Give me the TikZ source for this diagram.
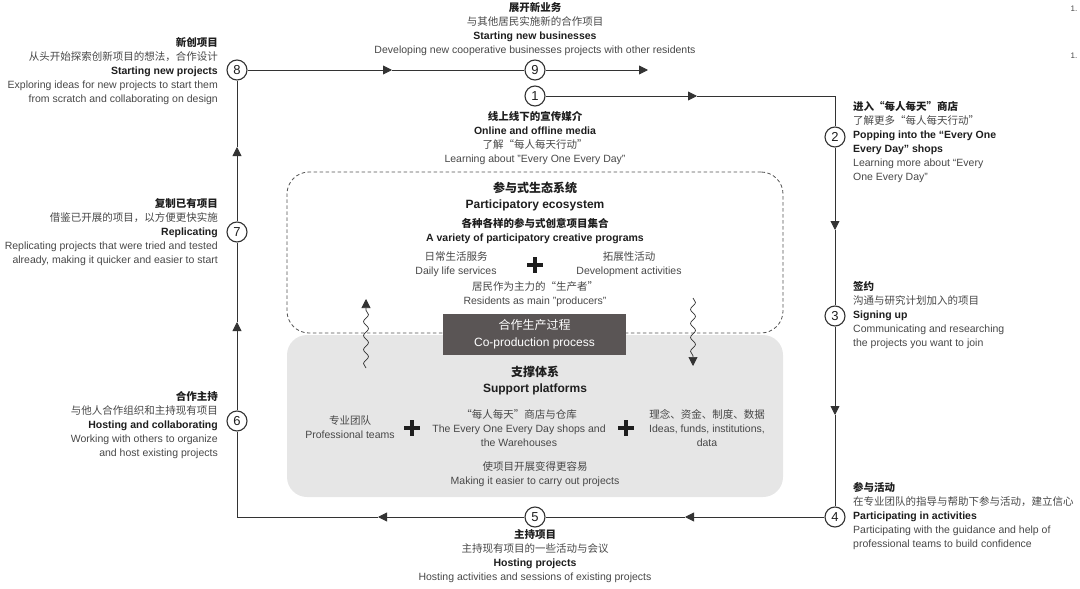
\documentclass[tikz,border=0pt]{standalone}
\usepackage{fontspec}
\setmainfont{Liberation Sans}
\newfontfamily\cjk{Noto Sans CJK SC}
\usetikzlibrary{arrows.meta,decorations.pathmorphing}
\definecolor{ink}{HTML}{1E1E1E}
\definecolor{sub}{HTML}{474747}
\definecolor{ln}{HTML}{333333}
\definecolor{panel}{HTML}{E6E6E6}
\definecolor{darkbox}{HTML}{5A5555}
\newcommand{\zh}[1]{{\cjk\fontsize{10.5}{14}\selectfont #1}}
\newcommand{\zhb}[1]{{\color{ink}\cjk\bfseries\fontsize{10.5}{14}\selectfont #1}}
\newcommand{\hd}[1]{{\color{ink}\bfseries #1}}
\begin{document}
\begin{tikzpicture}[x=1pt,y=-1pt,
  num/.style={circle,draw=ln,line width=1.1pt,fill=white,minimum size=20pt,inner sep=0pt,text=ink,font=\fontsize{13}{13}\selectfont},
  flow/.style={draw=ln,line width=0.9pt},
  tip/.style={flow,-{Triangle[length=9pt,width=9pt]}},
  lbl/.style={inner sep=0pt,text=sub,font=\fontsize{10.5}{14}\selectfont},
  wave/.style={draw=ln,line width=0.7pt,decorate,decoration={snake,amplitude=2.5pt,segment length=14pt,post length=9pt},-{Triangle[length=9pt,width=9pt]}},
  plusbar/.style={line width=3.6pt,ink}
]
\useasboundingbox (0,0) rectangle (1080,589);

% containers
\node[draw=ln!85,line width=0.8pt,dash pattern=on 3.5pt off 2.5pt,rounded corners=22pt,minimum width=496pt,minimum height=161pt,inner sep=0pt] (eco) at (535,252.5) {};
\node[fill=panel,rounded corners=20pt,minimum width=496pt,minimum height=162pt,inner sep=0pt] (sup) at (535,416) {};
\node[fill=darkbox,minimum width=183pt,minimum height=41pt,inner sep=0pt,text=white,align=center,font=\fontsize{12}{17}\selectfont] (cop) at (534.5,334.5) {{\cjk\fontsize{12}{17}\selectfont 合作生产过程}\\Co-production process};

% ecosystem texts
\node[inner sep=0pt,text=ink,font=\cjk\bfseries\fontsize{12}{14}\selectfont] (ecoT) at (535,188) {参与式生态系统};
\node[inner sep=0pt,text=ink,font=\bfseries\fontsize{12}{14}\selectfont] (ecoE) at (535,205) {Participatory ecosystem};
\node[inner sep=0pt,text=ink,font=\cjk\bfseries\fontsize{10.5}{14}\selectfont] (varT) at (535,223) {各种各样的参与式创意项目集合};
\node[inner sep=0pt,text=ink,font=\bfseries\fontsize{10.5}{14}\selectfont] (varE) at (535,239) {A variety of participatory creative programs};
\node[lbl,align=center] (daily) at (456,264) {\zh{日常生活服务}\\Daily life services};
\node[lbl,align=center] (devel) at (629,264) {\zh{拓展性活动}\\Development activities};
\node[lbl,align=center] (resid) at (535,294) {\zh{居民作为主力的“生产者”}\\Residents as main "producers"};
\draw[plusbar] (527,265) -- (543,265) (535,257) -- (535,273);

% support texts
\node[inner sep=0pt,text=ink,font=\cjk\bfseries\fontsize{12}{14}\selectfont] (supT) at (535,372) {支撑体系};
\node[inner sep=0pt,text=ink,font=\bfseries\fontsize{12}{14}\selectfont] (supE) at (535,389) {Support platforms};
\node[lbl,align=center] (prof) at (350,427) {\zh{专业团队}\\Professional teams};
\node[lbl,align=center] (shops) at (519,428) {\zh{“每人每天”商店与仓库}\\The Every One Every Day shops and\\the Warehouses};
\node[lbl,align=center] (ideas) at (707,428) {\zh{理念、资金、制度、数据}\\Ideas, funds, institutions,\\data};
\node[lbl,align=center] (easier) at (535,474) {\zh{使项目开展变得更容易}\\Making it easier to carry out projects};
\draw[plusbar] (404,428) -- (420,428) (412,420) -- (412,436);
\draw[plusbar] (618,428) -- (634,428) (626,420) -- (626,436);

% wavy arrows
\coordinate (wl0) at (366,368); \coordinate (wl1) at (366,299);
\coordinate (wr0) at (693,298); \coordinate (wr1) at (693,366);
\draw[wave] (wl0) -- (wl1);
\draw[wave] (wr0) -- (wr1);

% cycle circles
\node[num] (n1) at (535,96) {1};
\node[num] (n2) at (835,137) {2};
\node[num] (n3) at (835,316) {3};
\node[num] (n4) at (835,517) {4};
\node[num] (n5) at (535,517) {5};
\node[num] (n6) at (237,421) {6};
\node[num] (n7) at (237,232) {7};
\node[num] (n8) at (237,70) {8};
\node[num] (n9) at (535,70) {9};

% arrow tip coordinates
\coordinate (a89) at (392,70);
\coordinate (e9) at (648,70);
\coordinate (a12) at (697,96);
\coordinate (a23) at (835,230);
\coordinate (a34) at (835,415);
\coordinate (a45) at (685,517);
\coordinate (a56) at (378,517);
\coordinate (a67) at (237,322);
\coordinate (a78) at (237,147);

% connectors
\draw[tip] (n8) -- (a89); \draw[flow] (a89) -- (n9);
\draw[tip] (n9) -- (e9);
\draw[tip] (n1) -- (a12); \draw[flow] (a12) -| (n2);
\draw[tip] (n2) -- (a23); \draw[flow] (a23) -- (n3);
\draw[tip] (n3) -- (a34); \draw[flow] (a34) -- (n4);
\draw[tip] (n4) -- (a45); \draw[flow] (a45) -- (n5);
\draw[tip] (n5) -- (a56); \draw[flow] (a56) -| (n6);
\draw[tip] (n6) -- (a67); \draw[flow] (a67) -- (n7);
\draw[tip] (n7) -- (a78); \draw[flow] (a78) -- (n8);

% step labels
\node[lbl,anchor=east,align=right] (t8) at (218,71) {\zhb{新创项目}\\\zh{从头开始探索创新项目的想法，合作设计}\\\hd{Starting new projects}\\Exploring ideas for new projects to start them\\from scratch and collaborating on design};
\node[lbl,anchor=east,align=right] (t7) at (218,232) {\zhb{复制已有项目}\\\zh{借鉴已开展的项目，以方便更快实施}\\\hd{Replicating}\\Replicating projects that were tried and tested\\already, making it quicker and easier to start};
\node[lbl,anchor=east,align=right] (t6) at (218,425) {\zhb{合作主持}\\\zh{与他人合作组织和主持现有项目}\\\hd{Hosting and collaborating}\\Working with others to organize\\and host existing projects};
\node[lbl,anchor=west,align=left] (t2) at (853,142) {\zhb{进入“每人每天”商店}\\\zh{了解更多“每人每天行动”}\\\hd{Popping into the “Every One}\\\hd{Every Day” shops}\\Learning more about “Every\\One Every Day”};
\node[lbl,anchor=west,align=left] (t3) at (853,315) {\zhb{签约}\\\zh{沟通与研究计划加入的项目}\\\hd{Signing up}\\Communicating and researching\\the projects you want to join};
\node[lbl,anchor=west,align=left] (t4) at (853,516) {\zhb{参与活动}\\\zh{在专业团队的指导与帮助下参与活动，建立信心}\\\hd{Participating in activities}\\Participating with the guidance and help of\\professional teams to build confidence};
\node[lbl,align=center] (t9) at (535,29) {\zhb{展开新业务}\\\zh{与其他居民实施新的合作项目}\\\hd{Starting new businesses}\\Developing new cooperative businesses projects with other residents};
\node[lbl,align=center] (t1) at (535,138) {\zhb{线上线下的宣传媒介}\\\hd{Online and offline media}\\\zh{了解“每人每天行动”}\\Learning about "Every One Every Day"};
\node[lbl,align=center] (t5) at (535,556) {\zhb{主持项目}\\\zh{主持现有项目的一些活动与会议}\\\hd{Hosting projects}\\Hosting activities and sessions of existing projects};

% stray marks
\node[inner sep=0pt,text=sub,font=\fontsize{8}{8}\selectfont] (m1) at (1074,9) {1.};
\node[inner sep=0pt,text=sub,font=\fontsize{8}{8}\selectfont] (m2) at (1074,56) {1.};
\end{tikzpicture}
\end{document}
